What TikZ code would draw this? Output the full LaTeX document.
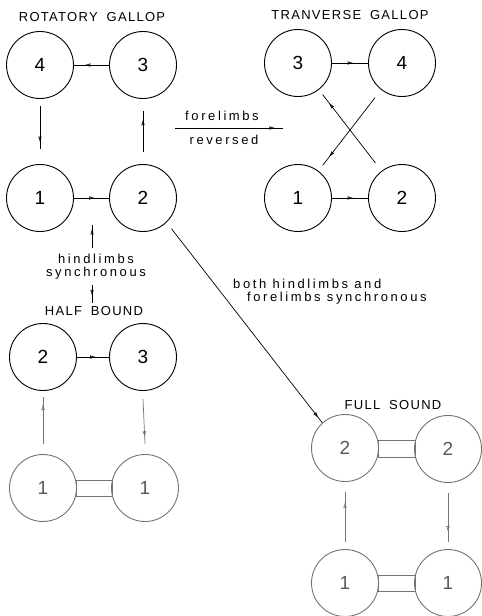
\documentclass[tikz,border=0pt]{standalone}
\usepackage{fontspec}
\setmainfont{Liberation Sans}
\newfontfamily\ttlfont[LetterSpace=10,WordSpace=1.8]{Liberation Sans}
\newfontfamily\lblfont[LetterSpace=20]{Liberation Sans}
\usetikzlibrary{arrows.meta,decorations.markings,calc}
\begin{document}
\begin{tikzpicture}[x=1pt,y=-1pt,
  stage/.style={circle,draw,line width=0.9pt,minimum size=67pt,inner sep=0pt,font=\fontsize{19}{19}\selectfont},
  faint/.style={draw=black!55,text=black!65},
  conn/.style={line width=0.7pt},
  marr/.style={postaction={decorate},decoration={markings,mark=at position #1 with {\arrow{Latex[open,length=6pt,width=3.5pt]}}}},
  title/.style={font=\fontsize{13}{13}\selectfont\ttlfont,inner sep=1pt},
  lab/.style={font=\fontsize{13}{13}\selectfont\lblfont,align=center,inner sep=1pt},
  ]
\useasboundingbox (0,0) rectangle (482,616);

% Rotatory gallop
\node[title] (tr) at (92,17) {ROTATORY GALLOP};
\node[stage] (r4) at (40,65) {4};
\node[stage] (r3) at (143,65) {3};
\node[stage] (r1) at (40,198) {1};
\node[stage] (r2) at (143,198) {2};
\draw[conn,marr=0.7] (r3) -- (r4);
\draw[conn,marr=0.6] (r1) -- (r2);
\draw[conn,marr=0.85] ($(r4.south)+(0,7)$) -- ($(r1.north)+(0,-15)$);
\draw[conn,marr=0.8] ($(r2.north)+(0,-12)$) -- ($(r3.south)+(0,12)$);

% Transverse gallop
\node[title] (tt) at (350,15) {TRANVERSE GALLOP};
\node[stage] (t3) at (298,63) {3};
\node[stage] (t4) at (402,63) {4};
\node[stage] (t1) at (298,198) {1};
\node[stage] (t2) at (402,198) {2};
\draw[conn,marr=0.6] (t3) -- (t4);
\draw[conn,marr=0.6] (t1) -- (t2);
\draw[conn,marr=0.88] ($(t2.127)!10pt!(t3.-52)$) -- ($(t3.-52)!6pt!(t2.127)$);
\draw[conn,marr=0.88] ($(t4.-128)!10pt!(t1.53)$) -- ($(t1.53)!7pt!(t4.-128)$);

% forelimbs reversed
\coordinate (fa) at (175,128);
\coordinate (fb) at (283,128);
\draw[conn,marr=0.93] (fa) -- (fb);
\node[lab] (fl) at (222,116) {forelimbs};
\node[lab] (fr) at (224,140) {reversed};

% hindlimbs synchronous
\node[lab] (hl) at (96,267) {hindlimbs\\synchronous};
\coordinate (hs0) at (92,225);
\coordinate (hs1) at (92,248);
\coordinate (hs2) at (92,285);
\coordinate (hs3) at (92,303);
\draw[conn,marr=0.85] (hs1) -- (hs0);
\draw[conn,marr=0.6] (hs2) -- (hs3);

% Half bound
\node[title] (th) at (94,311) {HALF BOUND};
\node[stage] (hb2) at (43,357) {2};
\node[stage] (hb3) at (143,357) {3};
\node[stage,faint] (hb1a) at (43,488) {1};
\node[stage,faint] (hb1b) at (145,488) {1};
\draw[conn,marr=0.6] (hb2) -- (hb3);
\draw[conn,faint,marr=0.85] ($(hb1a.north)+(0,-10)$) -- ($(hb2.south)+(0,6)$);
\draw[conn,faint,marr=0.85] ($(hb3.south)+(0,8)$) -- ($(hb1b.north)+(0,-10)$);
\draw[conn,faint] ($(hb1a.east)+(-1,-8)$) rectangle ($(hb1b.west)+(1,8)$);

% both hindlimbs and forelimbs synchronous
\node[lab,align=left,anchor=west] (bl) at (232,292) {both hindlimbs and\\\hspace*{14pt}forelimbs synchronous};

% Full sound
\node[title] (tf) at (393,405) {FULL SOUND};
\node[stage,faint] (f2a) at (345,448) {2};
\node[stage,faint] (f2b) at (448,449) {2};
\node[stage,faint] (f1a) at (345,583) {1};
\node[stage,faint] (f1b) at (448,583) {1};
\draw[conn,faint] ($(f2a.east)+(-1,-8)$) rectangle ($(f2b.west)+(1,8)$);
\draw[conn,faint] ($(f1a.east)+(-1,-8)$) rectangle ($(f1b.west)+(1,8)$);
\draw[conn,faint,marr=0.8] ($(f1a.north)+(0,-7)$) -- ($(f2a.south)+(0,10)$);
\draw[conn,faint,marr=0.8] ($(f2b.south)+(0,10)$) -- ($(f1b.north)+(0,-7)$);

% diagonal
\draw[conn,marr=0.975] ($(r2.-46)!8pt!(f2a.132)$) -- (f2a.132);
\end{tikzpicture}
\end{document}
